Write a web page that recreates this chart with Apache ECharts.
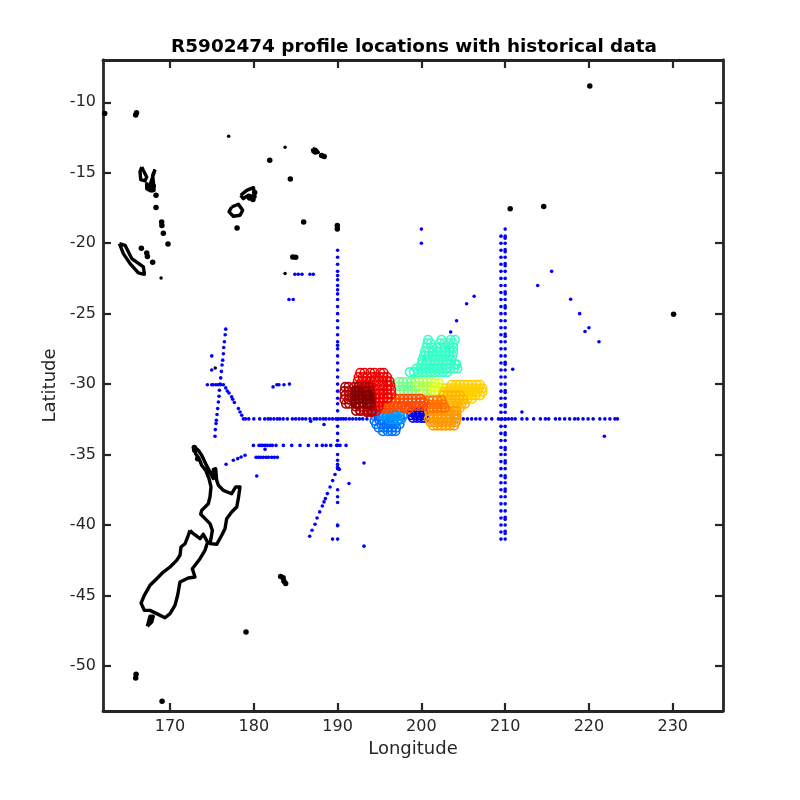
<!DOCTYPE html>
<html><head><meta charset="utf-8">
<style>html,body{margin:0;padding:0;background:#fff}#c{width:800px;height:800px}</style>
<script src="https://cdn.jsdelivr.net/npm/echarts@6/dist/echarts.min.js"></script>
</head><body><div id="c"></div>
<script>
const titleText = "R5902474 profile locations with historical data";
const xName = "Longitude", yName = "Latitude";
const xTicks = [170,180,190,200,210,220,230];
const yTicks = [-50,-45,-40,-35,-30,-25,-20,-15,-10];

// coastlines (lon, lat)
const northIsland = [[172.9,-34.46],[173.06,-34.94],[173.46,-35.29],[173.78,-35.76],[174.26,-36.12],[174.65,-36.71],[174.89,-37.3],[174.77,-38.01],[174.57,-38.49],[173.78,-38.96],[173.66,-39.24],[174.18,-39.55],[174.77,-39.9],[175.05,-40.38],[174.89,-40.97],[174.77,-41.32],[175.57,-41.37],[176.17,-40.73],[176.56,-40.26],[176.76,-39.55],[177.36,-39.08],[177.96,-38.72],[178.15,-38.13],[178.35,-37.3],[177.84,-37.3],[177.36,-37.78],[176.36,-37.54],[175.77,-37.18],[175.57,-36.83],[175.45,-36.0],[175.17,-36.07],[175.17,-36.71],[174.77,-36.24],[174.26,-35.65],[173.78,-35.05],[173.38,-34.7]];
const southIsland = [[172.38,-40.38],[172.18,-40.73],[171.79,-41.33],[171.31,-41.56],[171.19,-42.15],[170.79,-42.51],[170.0,-42.98],[169.2,-43.34],[168.29,-43.88],[167.61,-44.28],[166.93,-44.99],[166.54,-45.54],[166.93,-46.06],[167.61,-46.06],[168.41,-46.29],[169.4,-46.58],[170.0,-46.29],[170.59,-45.7],[170.91,-44.99],[171.19,-44.05],[172.18,-43.76],[172.98,-43.69],[172.66,-43.1],[173.58,-42.39],[174.17,-41.8],[174.49,-41.21],[173.97,-40.66],[173.58,-40.97],[172.78,-40.62]];
const stewart = [[167.29,-47.19],[167.81,-46.89],[168.0,-46.48],[167.61,-46.48]];
const newCaledonia = [[163.96,-20.03],[164.63,-20.15],[165.43,-21.09],[166.82,-21.69],[166.94,-22.21],[166.22,-22.11],[165.23,-21.45],[164.43,-20.74]];
const santo = [[166.62,-14.59],[166.9,-14.94],[167.22,-15.3],[167.02,-15.58],[166.5,-15.49],[166.42,-14.94]];
const malekula = [[168.21,-14.78],[167.93,-15.18],[168.01,-15.65],[168.09,-16.25],[167.7,-16.29],[167.22,-16.13],[167.22,-15.77],[167.54,-16.01]];
const vitiLevu = [[177.36,-17.43],[178.16,-17.24],[178.67,-17.67],[178.36,-18.02],[177.56,-18.09],[177.04,-17.78]];
const vanuaLevu = [[178.44,-16.6],[179.15,-16.25],[179.95,-16.06],[180.15,-16.72],[179.35,-16.6],[178.75,-16.84]];
const samoa = [[187.0,-13.29],[187.4,-13.35],[187.7,-13.55],[187.3,-13.6],[187.05,-13.5]];
const smallIslands = [[162.2,-10.8],[165.9,-10.9],[166.0,-10.75],[168.33,-16.6],[168.33,-17.47],[169.0,-18.5],[169.03,-18.75],[169.2,-19.3],[169.76,-20.05],[166.58,-20.36],[167.22,-20.7],[167.3,-20.95],[167.93,-21.35],[181.9,-14.12],[184.36,-15.44],[185.95,-18.49],[189.97,-18.75],[189.97,-19.0],[178.0,-18.92],[184.65,-20.98],[185.0,-21.0],[220.1,-8.85],[230.1,-25.05],[210.6,-17.55],[214.6,-17.4],[165.95,-50.6],[165.9,-50.85],[169.05,-52.5],[179.07,-47.6],[172.9,-34.5],[172.95,-34.7],[183.2,-43.65],[183.5,-43.75],[183.6,-44.0],[183.8,-44.15],[179.5,-16.8],[180.1,-16.4],[179.9,-16.9],[188.1,-13.78],[188.4,-13.85],[167.9,-16.2],[168.0,-15.95],[173.3,-35.3],[175.3,-36.5]];
const tinyIslands = [[177.0,-12.41],[183.73,-13.19],[183.73,-22.16],[168.93,-22.47],[175.4,-28.85]];

// historical data positions
const histLine32Lon = [179.0,179.4,180.0,180.7,181.3,181.7,182.0,182.4,182.8,183.1,183.5,184.0,184.6,185.0,185.4,185.8,186.2,186.7,187.2,187.5,187.9,188.3,188.6,189.0,189.4,189.8,190.1,190.4,190.7,191.0,191.4,191.8,192.2,192.6,193.0,193.5,194.5,196,198,200,202,204,205.0,205.5,206.0,206.5,207.0,207.7,208.4,209.2,209.6,210.0,210.4,210.8,211.2,212.0,212.6,213.4,214.2,214.8,215.2,216.0,216.5,217.1,217.7,218.3,218.7,219.3,219.9,220.5,221.3,221.9,222.5,223.1,223.4];
const histCol190Lat = [-20.5,-21,-21.5,-22,-22.3,-22.6,-23,-23.3,-23.6,-24,-24.5,-25,-25.5,-26,-26.5,-27,-27.25,-27.5,-28,-28.5,-29,-29.5,-30,-30.5,-31,-31.4,-31.9,-32.5,-33,-33.5,-34,-34.35,-35,-35.4,-35.7,-35.9,-36,-37.5,-38,-38.4,-40,-40.05,-41];
const histCol2095Lat = [-19.5,-20,-20.5,-21,-21.5,-22,-22.5,-23,-23.5,-24,-24.5,-25,-25.5,-26,-26.5,-27,-27.5,-28,-28.5,-29,-29.5,-30,-30.5,-31,-31.5,-32,-32.5,-33,-33.5,-34,-34.5,-35,-35.5,-36,-36.5,-37,-37.5,-38,-38.5,-39,-39.5,-40,-40.5,-41];
const histCol210Lat = [-19,-19.5,-19.65,-20,-20.45,-20.6,-21,-21.45,-21.6,-22,-22.5,-23,-23.45,-23.6,-24,-24.45,-24.6,-25,-25.5,-26,-26.45,-26.6,-27,-27.5,-28,-28.45,-28.6,-29,-29.5,-30,-30.45,-30.6,-31,-31.45,-31.6,-32,-32.5,-33,-33.45,-33.6,-34,-34.5,-34.65,-35,-35.45,-35.6,-36,-36.5,-36.65,-37,-37.45,-37.6,-38,-38.5,-39,-39.45,-39.6,-40,-40.45,-40.6,-41];
const histDiagA = [[176.65,-26.1],[176.58,-26.5],[176.49,-27],[176.41,-27.4],[176.37,-27.85],[176.29,-28.3],[176.21,-28.65],[176.13,-29.1],[176.05,-29.56],[175.97,-30],[175.89,-30.44],[175.85,-30.86],[175.77,-31.27],[175.69,-31.74],[175.61,-32.16],[175.53,-32.57],[175.49,-32.8],[175.41,-33.23],[175.37,-33.7]];
const histRow30 = [[174.46,-30.05],[174.98,-30.05],[175.17,-30.05],[175.49,-30.05],[175.77,-30.05],[176.05,-30.05],[176.37,-30.05]];
const histDiagB = [[176.65,-30.27],[176.84,-30.49],[177.04,-30.63],[177.36,-30.91],[177.48,-31.08],[177.68,-31.31],[178.16,-31.74],[178.36,-31.98],[178.56,-32.21],[178.75,-32.47]];
const histRow34Lon = [179.95,180.62,180.86,181.06,181.34,181.62,181.94,182.21,182.65,183.53,184.52,185.52,186.51,187.5,188.18,188.62,189.18,189.89,190.29,191.01];
const histRow35Lon = [180.27,180.54,180.82,181.14,181.46,181.74,182.13,182.45,182.81];
const histDiagC = [[186.67,-40.8],[186.95,-40.37],[187.31,-39.95],[187.55,-39.5],[187.86,-39.07],[188.18,-38.65],[188.38,-38.36],[188.54,-38.13],[188.78,-37.77],[189.1,-37.3],[189.41,-36.85],[189.69,-36.42],[190.09,-36],[190.21,-36.05]];
const histScattered = [[174.98,-28],[174.98,-29],[181.34,-34.63],[176.69,-35.69],[177.56,-35.41],[178.08,-35.29],[178.48,-35.17],[178.95,-35.05],[180.35,-36.52],[186.79,-32.64],[188.38,-32.87],[191.36,-37.06],[189.4,-41],[215.55,-22],[213.88,-23],[217.82,-23.98],[218.89,-25],[220.0,-26],[219.53,-26.27],[221.2,-27],[212,-31.98],[221.84,-33.7],[210.9,-28.95],[206.3,-23.77],[205.4,-24.3],[204.2,-25.5],[203.5,-26.3],[200,-19],[200,-20],[193.15,-35.6],[193.15,-41.5],[184.9,-22.2],[185.3,-22.2],[185.75,-22.2],[186.7,-22.2],[187.1,-22.2],[184.2,-24],[184.7,-24],[182.3,-30.2],[182.75,-30.05],[183.0,-30.05],[183.6,-30.05],[184.25,-30]];

// float profile rows, early to late: [lat, [lons]]
const profDarkBlue = [[-32.0,[198.8,199.3,199.8,200.2]],[-32.2,[198.8,199.3,199.8,200.3]],[-32.4,[199.0,199.5,200.0,200.4]]];
const profBlue = [[-32.3,[194.5,195.0]],[-32.6,[194.4,195.0,195.6,196.1,196.6,197.2]],[-32.85,[194.6,195.2,195.8,196.3,196.8,197.4]],[-33.1,[194.9,195.5,196.0,196.5,197.0]],[-33.35,[195.4,196.0,196.5,196.9]]];
const profAzure = [[-32.0,[195.1,195.6,196.1,196.6,197.1,197.5]],[-32.25,[195.4,195.9,196.4,196.9,197.4,197.8]],[-32.5,[196.2,196.7,197.2,197.6]]];
const profCyan = [[-26.85,[200.8,202.4,203.5,204.0]],[-27.1,[200.7,201.1,202.2,202.7,203.3,203.8]],[-27.4,[200.6,201.2,201.8,202.3,202.8,203.4,203.8]],[-27.7,[200.4,200.9,201.4,201.9,202.4,202.9,203.4,203.8]],[-28.0,[200.3,200.8,201.3,201.8,202.3,202.8,203.3,203.7]],[-28.3,[200.1,200.6,201.1,201.6,202.1,202.6,203.1,203.6]],[-28.6,[200.0,200.5,201.0,201.5,202.0,202.5,203.0,203.5,204.0,204.2]],[-28.9,[199.4,199.9,200.4,200.9,201.4,201.9,202.4,202.9,203.4,203.9,204.3]],[-29.15,[198.6,199.1,199.6,200.1,200.6,201.1,201.6,202.1,202.6,203.1]]];
const profGreen = [[-29.85,[197.3,197.8,198.3,198.8,199.3]],[-30.15,[197.3,197.8,198.3,198.8,199.3]],[-30.45,[197.4,197.9,198.4,198.9,199.3]]];
const profLime = [[-29.85,[199.7,200.2,200.7,201.2]],[-30.15,[199.7,200.2,200.7,201.2]],[-30.45,[199.7,200.2,200.7,201.2]]];
const profChartreuse = [[-29.95,[201.6,202.1]],[-30.25,[201.6,202.1,202.5]],[-30.5,[201.6,202.1,202.5]]];
const profYellow = [[-30.05,[203.6,204.1,204.6,205.1,205.6,206.1,206.6,207.0]],[-30.3,[202.9,203.4,203.9,204.4,204.9,205.4,205.9,206.4,206.9,207.3]],[-30.55,[202.7,203.2,203.7,204.2,204.7,205.2,205.7,206.2,206.7,207.3]],[-30.8,[205.0,205.5,206.0,206.5,207.0]],[-31.05,[205.0,205.5,206.0]]];
const profGold = [[-30.8,[202.6,203.1,203.6,204.1,204.6]],[-31.1,[202.5,203.0,203.5,204.0,204.5,205.0]],[-31.4,[202.8,203.3,203.8,204.3,204.8,205.2]],[-31.7,[203.6,204.1,204.6]]];
const profOrange = [[-31.9,[200.9,201.4,201.9,202.4,202.9,203.4,203.9,204.2]],[-32.2,[201.0,201.5,202.0,202.5,203.0,203.5,204.0,204.2]],[-32.45,[200.9,201.4,201.9,202.4,202.9,203.4,203.9,204.2]],[-32.7,[201.1,201.6,202.1,202.6,203.1,203.6,204.1]],[-32.95,[201.4,201.9,202.4,202.9,203.4,203.9]]];
const profDeepOrange = [[-31.15,[200.4,200.9,201.4,201.9,202.4]],[-31.45,[200.6,201.1,201.6,202.1,202.6]],[-31.7,[200.9,201.4,201.9,202.4,202.8]]];
const profOrangeRed = [[-31.05,[196.9,197.4,197.9,198.4,198.9,199.4,199.9]],[-31.3,[195.4,195.9,196.4,196.9,197.4,197.9,198.4,198.9,199.4,199.9,200.3]],[-31.55,[195.2,195.7,196.2,196.7,197.2,197.7,198.2,198.7,199.2,199.7,200.2]],[-31.75,[195.3,195.8,196.3,198.0,198.5]]];
const profRed = [[-29.2,[192.7,193.2,193.9,194.4,195.1,195.5]],[-29.5,[192.5,193.0,193.5,194.0,194.5,195.0,195.5,195.9]],[-29.8,[192.4,192.9,193.4,193.9,194.4,194.9,195.4,195.9,196.2]],[-30.1,[192.5,193.0,193.5,194.0,194.5,195.0,195.5,196.0,196.3]],[-30.4,[192.4,192.9,193.4,193.9,194.4,194.9,195.4,195.9,196.4]],[-30.7,[192.5,193.0,193.5,194.0,194.5,195.0,195.5,196.0,196.4]],[-31.0,[192.5,193.0,193.5,194.0,194.5,195.0,195.5,196.0]],[-31.3,[193.0,193.5,194.0,194.5,195.0]],[-31.6,[193.0,193.5,194.0,194.5,194.9]],[-31.9,[192.7,193.2,193.7,194.2,194.6]]];
const profDarkRed = [[-30.2,[190.9,191.3,192.0,192.5,193.3,193.8]],[-30.5,[190.8,191.3,192.0,192.6,193.3,193.9]],[-30.8,[190.9,191.4,192.0,192.6,193.4,193.9]],[-31.1,[190.8,191.3,192.0,192.6,193.4,194.0]],[-31.4,[191.0,191.4,192.1,192.6,193.5,194.0]],[-31.6,[192.2,192.7,193.5,194.0]],[-31.9,[192.2,192.7,193.6,194.1]],[-32.0,[193.5,194.0]]];
const profMaroon = [[-30.5,[192.2,192.5,193.5]],[-30.8,[192.1,192.5,193.4,193.7]],[-31.1,[192.1,192.5,193.4,193.8]],[-31.4,[192.2,192.5,193.5,193.8]]];

const coastRings = [northIsland,southIsland,stewart,newCaledonia,santo,malekula,vitiLevu,vanuaLevu,samoa];
const histPoints = [].concat(
  histLine32Lon.map(v=>[v,-32.47]),
  histCol190Lat.map(v=>[190,v]),
  histCol2095Lat.map(v=>[209.5,v]),
  histCol210Lat.map(v=>[210,v]),
  histRow34Lon.map(v=>[v,-34.35]),
  histRow35Lon.map(v=>[v,-35.2]),
  histDiagA,histRow30,histDiagB,histDiagC,histScattered);
const profileGroups = [
  [profDarkBlue,'#0000e6'],[profBlue,'#0070ff'],[profAzure,'#0098ff'],
  [profCyan,'#38ffc8'],[profGreen,'#75ff8a'],[profLime,'#b0ff50'],[profChartreuse,'#e0ff20'],
  [profYellow,'#ffd000'],[profGold,'#ffb400'],[profOrange,'#ff9a00'],[profDeepOrange,'#ff7000'],[profOrangeRed,'#ff4c00'],
  [profRed,'#f00000'],[profDarkRed,'#b00000'],[profMaroon,'#800000']
];
const expandRows = rows => rows.flatMap(r => r[1].map(lon => [lon, r[0]]));

const ink = '#262626', font = 'DejaVu Sans';
const series = [];
coastRings.forEach(r=>series.push({type:'line',data:r.concat([r[0]]),showSymbol:false,symbol:'none',silent:true,
  lineStyle:{color:'#000',width:3.4,join:'round'},z:2}));
series.push({type:'scatter',data:smallIslands,symbol:'circle',symbolSize:5.5,itemStyle:{color:'#000',opacity:1},z:2,silent:true});
series.push({type:'scatter',data:tinyIslands,symbol:'circle',symbolSize:3.5,itemStyle:{color:'#000',opacity:1},z:2,silent:true});
series.push({type:'scatter',data:histPoints,symbol:'circle',symbolSize:3.6,itemStyle:{color:'#0000ff',opacity:1},z:3,silent:true});
profileGroups.forEach((g,i)=>series.push({type:'scatter',data:expandRows(g[0]),symbol:'circle',symbolSize:8.5,z:4+i*0.01,silent:true,
  itemStyle:{color:'rgba(255,255,255,0)',borderColor:g[1],borderWidth:1.6,opacity:1}}));

const axisBase = (ticks,min,max)=>({type:'value',min,max,scale:true,splitLine:{show:false},
  axisLine:{show:true,onZero:false,lineStyle:{color:ink,width:2.8}},
  axisTick:{show:true,inside:true,length:8,customValues:ticks,lineStyle:{color:ink,width:2.2}}});

const chart = echarts.init(document.getElementById('c'),null,{renderer:'canvas'});
chart.setOption({
  animation:false,backgroundColor:'#fff',
  title:{text:titleText,left:409,top:33,textAlign:'center',textStyle:{fontFamily:font,fontWeight:'bold',fontSize:18.4,color:'#000'}},
  grid:{left:103,right:77,top:60,bottom:89,containLabel:false},
  xAxis:[
    Object.assign(axisBase(xTicks,162,236),{position:'bottom',name:xName,nameLocation:'middle',nameGap:25,
      nameTextStyle:{fontFamily:font,fontSize:18,color:ink},
      axisLabel:{customValues:xTicks,margin:8,fontFamily:font,fontSize:16,color:ink}}),
    Object.assign(axisBase(xTicks,162,236),{position:'top',axisLabel:{show:false}})
  ],
  yAxis:[
    Object.assign(axisBase(yTicks,-53.2,-7),{position:'left',name:yName,nameLocation:'middle',nameGap:25,
      nameTextStyle:{fontFamily:font,fontSize:18,color:ink},
      axisLabel:{customValues:yTicks,margin:7,fontFamily:font,fontSize:16,color:ink}}),
    Object.assign(axisBase(yTicks,-53.2,-7),{position:'right',axisLabel:{show:false}})
  ],
  series
});
</script></body></html>
